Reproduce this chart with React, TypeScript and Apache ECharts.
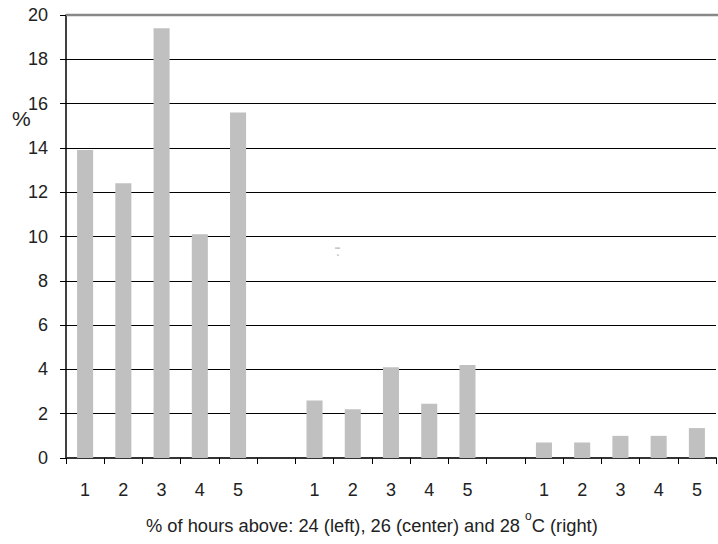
import React, { useEffect, useRef } from "react";
import * as echarts from "echarts";

const categories = ["1", "2", "3", "4", "5", "", "1", "2", "3", "4", "5", "", "1", "2", "3", "4", "5"];
const values = [13.9, 12.4, 19.4, 10.1, 15.6, null, 2.6, 2.2, 4.1, 2.45, 4.2, null, 0.7, 0.7, 1.0, 1.0, 1.35];
const yTicks = [0, 2, 4, 6, 8, 10, 12, 14, 16, 18, 20];

export default function App() {
  const ref = useRef<HTMLDivElement>(null);
  useEffect(() => {
    const chart = echarts.init(ref.current!, null, { renderer: "svg" });
    const font = "Liberation Sans, Arial, sans-serif";
    chart.setOption({
      animation: false,
      grid: { left: 66, right: 2, top: 15, bottom: 86, containLabel: false },
      xAxis: {
        type: "category",
        data: categories,
        axisLine: { lineStyle: { color: "#333", width: 2 } },
        axisTick: { show: true, length: 6, lineStyle: { color: "#000" } },
        axisLabel: { color: "#222", fontSize: 18, fontFamily: font, margin: 23 },
      },
      yAxis: {
        type: "value",
        min: yTicks[0],
        max: yTicks[yTicks.length - 1],
        interval: 2,
        axisLine: { show: true, lineStyle: { color: "#000", width: 1.5 } },
        axisTick: { show: true, length: 6, lineStyle: { color: "#000" } },
        axisLabel: { color: "#222", fontSize: 18, fontFamily: font, margin: 18 },
        splitLine: {
          show: true,
          lineStyle: { color: ["#000", "#000", "#000", "#000", "#000", "#000", "#000", "#000", "#000", "#000", "#888"], width: 1 },
        },
      },
      series: [
        {
          type: "bar",
          data: values,
          barWidth: "42%",
          itemStyle: { color: "#c0c0c0" },
        },
      ],
      graphic: [
        {
          type: "line",
          shape: { x1: 66, y1: 15, x2: 718, y2: 15 },
          style: { stroke: "#888", lineWidth: 2.5 },
          z: 10,
        },
        {
          type: "text",
          left: 12,
          top: 108,
          style: { text: "%", fontSize: 21, fontFamily: font, fill: "#222" },
        },
        {
          type: "text",
          left: 335,
          top: 246,
          style: { text: "aaa", fontSize: 3, fontFamily: font, fill: "#888" },
        },
        {
          type: "text",
          left: 337,
          top: 253,
          style: { text: "a", fontSize: 3, fontFamily: font, fill: "#888" },
        },
        {
          type: "text",
          left: 146,
          top: 510,
          style: {
            text: "{n|% of hours above: 24 (left), 26 (center) and 28 }{s|o}{n|C (right)}",
            rich: {
              n: { fontSize: 18.3, fontFamily: font, fill: "#222", verticalAlign: "bottom", lineHeight: 24 },
              s: { fontSize: 12, fontFamily: font, fill: "#222", verticalAlign: "top", lineHeight: 24, padding: [0, 0, 9, 0] },
            },
          },
        },
      ],
    });
    return () => chart.dispose();
  }, []);
  return <div ref={ref} style={{ width: 718, height: 544, position: "absolute", left: 0, top: 0 }} />;
}
